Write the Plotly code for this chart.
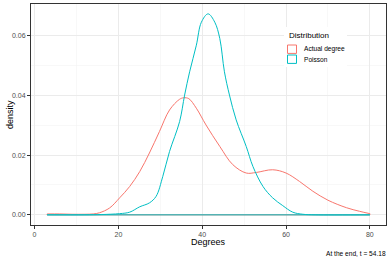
import plotly.graph_objects as go

# Kernel density estimates
actual_x = [3, 6, 9, 12, 14, 15.5, 17.9, 20.3, 22.7, 25.1, 27.4, 29.8, 32.2, 34.6, 35.6, 36.8,
            38.6, 40.9, 44.2, 47.3, 50.5, 52.9, 56.8, 60.0, 63.2, 66.4, 70.0, 74.4, 77.5, 80]
actual_y = [0.0003, 0.0003, 0.0002, 0.0002, 0.0003, 0.0007, 0.0023, 0.0057, 0.0095, 0.0145,
            0.0207, 0.0279, 0.0351, 0.0387, 0.0392, 0.0389, 0.0357, 0.0301, 0.0229, 0.0168,
            0.0140, 0.0142, 0.0151, 0.0140, 0.0112, 0.0079, 0.0049, 0.0024, 0.0012, 0.0004]

poisson_x = [3, 12, 16, 20.3, 22.7, 25.1, 27.4, 29.0, 30.6, 32.2, 34.6, 35.8, 37.0, 38.6, 39.8,
             41.4, 43.0, 44.2, 45.3, 46.5, 48.1, 50.5, 52.1, 54.5, 56.8, 59.2, 61.6, 64.0, 67, 80]
poisson_y = [0.0, 0.0, 0.0001, 0.0004, 0.0009, 0.0027, 0.0040, 0.0062, 0.0129, 0.0212, 0.0312,
             0.0401, 0.0479, 0.0568, 0.0645, 0.0673, 0.0645, 0.0590, 0.0479, 0.0401, 0.0318,
             0.0229, 0.0162, 0.0095, 0.0057, 0.0031, 0.0009, 0.0002, 0.0, 0.0]

series_names = ["Actual degree", "Poisson"]
series_colors = ["#F8766D", "#00BFC4"]
x_ticks = [0, 20, 40, 60, 80]
y_ticks = [0.00, 0.02, 0.04, 0.06]
caption = "At the end, t = 54.18"

FONT = "Liberation Sans, Arial, sans-serif"

fig = go.Figure()
for xs, ys, name, col in [(actual_x, actual_y, series_names[0], series_colors[0]),
                          (poisson_x, poisson_y, series_names[1], series_colors[1])]:
    # density outline
    fig.add_trace(go.Scatter(x=xs, y=ys, mode="lines", name=name,
                             line=dict(color=col, width=1, shape="spline", smoothing=1.0),
                             showlegend=False, hoverinfo="skip"))
    # baseline of the density polygon
    fig.add_trace(go.Scatter(x=[xs[0], xs[0], xs[-1], xs[-1]], y=[ys[0], 0, 0, ys[-1]], mode="lines",
                             line=dict(color=col, width=1), showlegend=False, hoverinfo="skip"))

axis_common = dict(showline=True, linecolor="#333333", linewidth=1, mirror=True,
                   ticks="outside", ticklen=3, tickcolor="#333333", tickwidth=1,
                   tickfont=dict(family=FONT, size=7, color="#4D4D4D"),
                   gridcolor="#EBEBEB", gridwidth=1, zeroline=False, automargin=False)

fig.update_xaxes(range=[-0.85, 83.85], tickvals=x_ticks, ticktext=[str(v) for v in x_ticks],
                 minor=dict(tickvals=[10, 30, 50, 70], showgrid=True, gridcolor="#F2F2F2", gridwidth=0.5, ticks=""),
                 **axis_common)
fig.update_yaxes(range=[-0.0034, 0.0706], tickvals=y_ticks, ticktext=["%.2f" % v for v in y_ticks],
                 minor=dict(tickvals=[0.01, 0.03, 0.05], showgrid=True, gridcolor="#F2F2F2", gridwidth=0.5, ticks=""),
                 **axis_common)

PW, PH, L, T = 355, 221, 31, 4
def px(x):
    return (x - L) / PW
def py(y):
    return (T + PH - y) / PH

# Legend (drawn as ggplot-style box)
shapes = [dict(type="rect", xref="paper", yref="paper", x0=px(284), x1=px(347),
               y0=py(67), y1=py(27), fillcolor="white", line=dict(width=0), layer="above")]
annotations = [dict(text="Distribution", xref="paper", yref="paper", x=px(286.5), y=py(35.7),
                    xanchor="left", yanchor="middle", showarrow=False, font=dict(family=FONT, size=8, color="black"))]
key_ys = [49.2, 59.2]
for name, col, ky in zip(series_names, series_colors, key_ys):
    shapes.append(dict(type="rect", xref="paper", yref="paper",
                       x0=px(287.5), x1=px(296.5), y0=py(ky + 4.2), y1=py(ky - 4.2),
                       fillcolor="white", line=dict(color=col, width=1), layer="above"))
    annotations.append(dict(text=name, xref="paper", yref="paper", x=px(301.5), y=py(ky),
                            xanchor="left", yanchor="middle", showarrow=False,
                            font=dict(family=FONT, size=6.6, color="black")))
annotations.append(dict(text="Degrees", xref="paper", yref="paper", x=px(208.5), y=py(242),
                        xanchor="center", yanchor="middle", showarrow=False,
                        font=dict(family=FONT, size=9, color="black")))
annotations.append(dict(text="density", xref="paper", yref="paper", x=px(10), y=py(115),
                        xanchor="center", yanchor="middle", showarrow=False, textangle=-90,
                        font=dict(family=FONT, size=9, color="black")))
annotations.append(dict(text=caption, xref="paper", yref="paper", x=px(388), y=py(253),
                        xanchor="right", yanchor="middle", showarrow=False,
                        font=dict(family=FONT, size=6.6, color="black")))

fig.update_layout(width=390, height=260, margin=dict(l=L, r=4, t=T, b=35),
                  paper_bgcolor="white", plot_bgcolor="white", showlegend=False,
                  shapes=shapes, annotations=annotations, font=dict(family=FONT))

fig.write_html("out.html", config={"displayModeBar": False, "staticPlot": True},
               post_script="document.body.style.margin='0px';document.body.style.overflow='hidden';")
